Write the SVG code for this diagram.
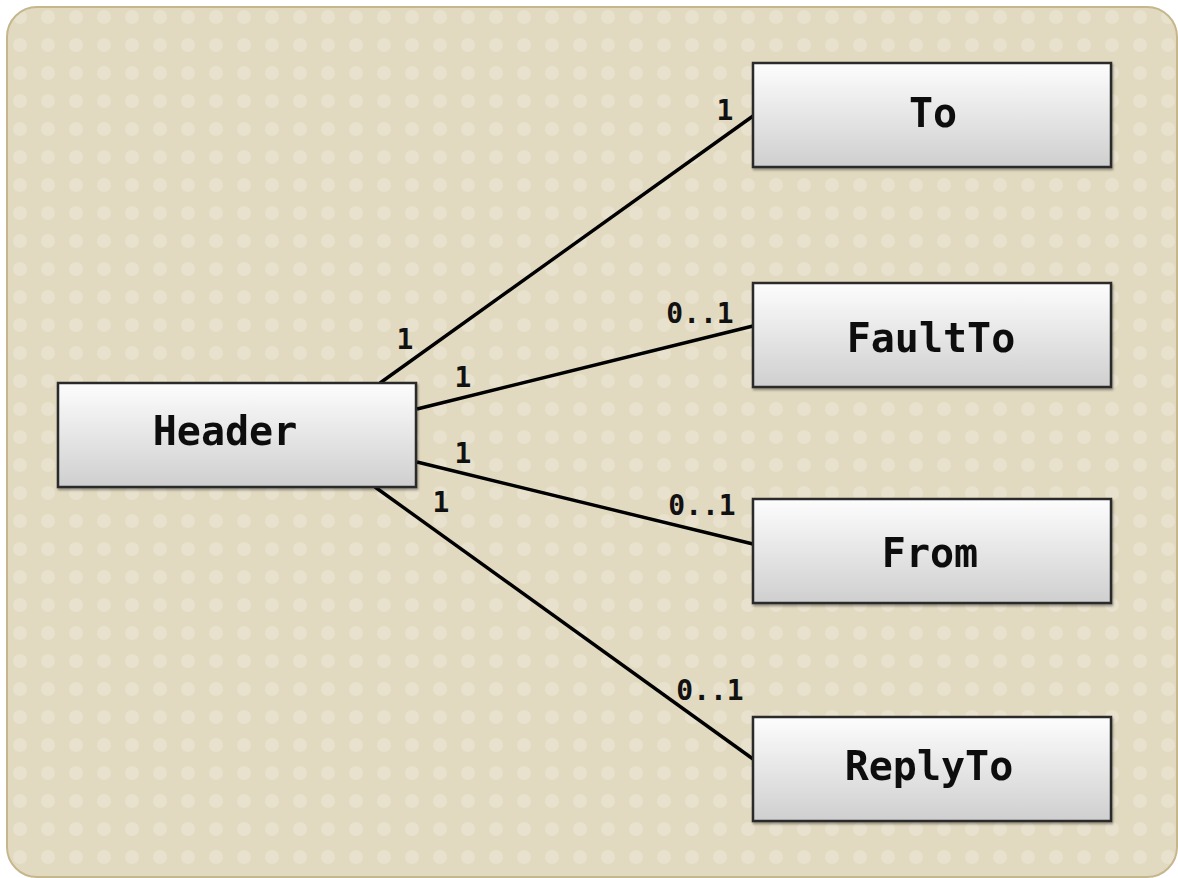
<svg xmlns="http://www.w3.org/2000/svg" width="1178" height="878" viewBox="0 0 1178 878">
  <style>
    .box { stroke: #2b2b2b; stroke-width: 2.5; fill: url(#boxGrad); }
    .boxText { font-family: "DejaVu Sans Mono", "Liberation Mono", monospace; font-weight: bold; font-size: 40px; fill: #111; text-anchor: middle; }
    .lbl { font-family: "DejaVu Sans Mono", "Liberation Mono", monospace; font-weight: bold; font-size: 28px; fill: #111; text-anchor: middle; }
    .conn { stroke: #000; stroke-width: 3.4; fill: none; }
  </style>
  <defs>
    <linearGradient id="boxGrad" x1="0" y1="0" x2="0" y2="1">
      <stop offset="0" stop-color="#fdfdfd"/>
      <stop offset="1" stop-color="#cfcfcf"/>
    </linearGradient>
    <pattern id="dots" patternUnits="userSpaceOnUse" x="6" y="3" width="28" height="28">
      <circle cx="14" cy="14" r="7" fill="#ffffff" fill-opacity="0.2"/>
    </pattern>
    <filter id="shadow" x="-5%" y="-5%" width="110%" height="115%">
      <feDropShadow dx="1" dy="2" stdDeviation="1.2" flood-color="#000" flood-opacity="0.35"/>
    </filter>
  </defs>

  <g id="background">
    <rect x="7" y="7" width="1170" height="870" rx="30" ry="30" fill="#e2dac0" stroke="#c6b68c" stroke-width="2"/>
    <rect x="8" y="8" width="1168" height="868" rx="29" ry="29" fill="url(#dots)"/>
  </g>

  <g id="connectors">
    <line class="conn" x1="380" y1="383" x2="753" y2="116"/>
    <line class="conn" x1="417" y1="409" x2="753" y2="326"/>
    <line class="conn" x1="417" y1="462" x2="753" y2="544"/>
    <line class="conn" x1="375" y1="487" x2="753" y2="759"/>
    <text class="lbl" x="405" y="349">1</text>
    <text class="lbl" x="725" y="120">1</text>
    <text class="lbl" x="463" y="387">1</text>
    <text class="lbl" x="700" y="323">0..1</text>
    <text class="lbl" x="463" y="463">1</text>
    <text class="lbl" x="702" y="515">0..1</text>
    <text class="lbl" x="441" y="512">1</text>
    <text class="lbl" x="710" y="700">0..1</text>
  </g>

  <g id="node-header" filter="url(#shadow)">
    <rect class="box" x="58" y="383" width="358" height="104"/>
    <text class="boxText" x="225" y="445">Header</text>
  </g>
  <g id="node-to" filter="url(#shadow)">
    <rect class="box" x="753" y="63" width="358" height="104"/>
    <text class="boxText" x="933" y="127">To</text>
  </g>
  <g id="node-faultto" filter="url(#shadow)">
    <rect class="box" x="753" y="283" width="358" height="104"/>
    <text class="boxText" x="931" y="352">FaultTo</text>
  </g>
  <g id="node-from" filter="url(#shadow)">
    <rect class="box" x="753" y="499" width="358" height="104"/>
    <text class="boxText" x="930" y="567">From</text>
  </g>
  <g id="node-replyto" filter="url(#shadow)">
    <rect class="box" x="753" y="717" width="358" height="104"/>
    <text class="boxText" x="929" y="780">ReplyTo</text>
  </g>
</svg>
